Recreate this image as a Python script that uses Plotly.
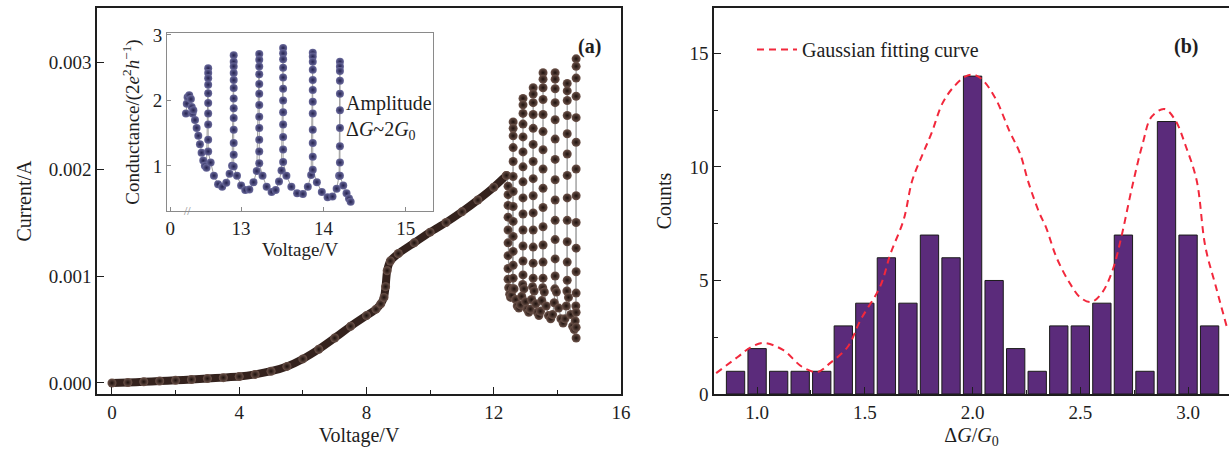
import plotly.graph_objects as go

# ---------------- panel (a): I-V sweep ----------------
# smooth part of the sweep (voltage in V, current in A)
sweep_v = [0.0, 0.5, 1.0, 1.5, 2.0, 2.5, 3.0, 3.5, 4.0, 4.5, 5.0, 5.5, 6.0, 6.5,
           7.0, 7.5, 8.0, 8.3, 8.45, 8.55, 8.6, 8.65, 8.75, 9.0, 9.5, 10.0, 10.5,
           11.0, 11.5, 12.0, 12.4]
sweep_i = [0.0, 0.000005, 0.000011, 0.000018, 0.000025, 0.000033, 0.000041,
           0.000050, 0.000060, 0.000080, 0.000110, 0.000155, 0.000225, 0.000315,
           0.000420, 0.000530, 0.000630, 0.000690, 0.000740, 0.000800, 0.000900,
           0.001050, 0.001140, 0.001210, 0.001310, 0.001410, 0.001500, 0.001600,
           0.001710, 0.001830, 0.001940]

# oscillating regime: vertical runs at nearly constant voltage ...
osc_run_v = [12.45, 12.61, 12.92, 13.24, 13.55, 13.93, 14.31, 14.59]
osc_run_i = [
    [0.00184, 0.00176, 0.00166, 0.00155, 0.00143, 0.00131, 0.00119, 0.00107, 0.00097],
    [0.00244, 0.00238, 0.00231, 0.00220, 0.00207, 0.00193, 0.00179, 0.00165, 0.00151,
     0.00137, 0.00123, 0.00110, 0.00098],
    [0.00266, 0.00260, 0.00252, 0.00242, 0.00230, 0.00216, 0.00202, 0.00188, 0.00173,
     0.00158, 0.00143, 0.00128, 0.00114, 0.00101],
    [0.00276, 0.00270, 0.00262, 0.00251, 0.00238, 0.00223, 0.00207, 0.00191, 0.00175,
     0.00159, 0.00143, 0.00127, 0.00112, 0.00098],
    [0.00290, 0.00284, 0.00276, 0.00265, 0.00251, 0.00235, 0.00218, 0.00200, 0.00182,
     0.00164, 0.00146, 0.00129, 0.00113, 0.00098],
    [0.00290, 0.00284, 0.00275, 0.00262, 0.00246, 0.00228, 0.00209, 0.00190, 0.00171,
     0.00152, 0.00134, 0.00116, 0.00100],
    [0.00280, 0.00273, 0.00264, 0.00250, 0.00233, 0.00214, 0.00194, 0.00173, 0.00152,
     0.00132, 0.00113, 0.00096],
    [0.00303, 0.00296, 0.00285, 0.00268, 0.00248, 0.00225, 0.00200, 0.00175, 0.00150,
     0.00126, 0.00104, 0.00084, 0.00066, 0.00052, 0.00042],
]
# ... separated by current valleys
osc_dip_v = [
    [12.47, 12.50, 12.53, 12.56, 12.59],
    [12.64, 12.69, 12.74, 12.79, 12.84, 12.88, 12.91],
    [12.95, 13.00, 13.05, 13.10, 13.15, 13.19, 13.22],
    [13.27, 13.32, 13.37, 13.42, 13.47, 13.51, 13.54],
    [13.59, 13.65, 13.72, 13.79, 13.85, 13.90, 13.92],
    [13.97, 14.04, 14.11, 14.18, 14.24, 14.28, 14.30],
    [14.35, 14.42, 14.48, 14.53, 14.56, 14.58],
]
osc_dip_i = [
    [0.00089, 0.00083, 0.00080, 0.00082, 0.00088],
    [0.00088, 0.00078, 0.00072, 0.00070, 0.00073, 0.00081, 0.00092],
    [0.00088, 0.00076, 0.00069, 0.00066, 0.00069, 0.00078, 0.00090],
    [0.00086, 0.00074, 0.00066, 0.00063, 0.00067, 0.00077, 0.00089],
    [0.00085, 0.00072, 0.00063, 0.00060, 0.00064, 0.00075, 0.00088],
    [0.00085, 0.00070, 0.00060, 0.00056, 0.00060, 0.00072, 0.00086],
    [0.00080, 0.00064, 0.00053, 0.00050, 0.00058, 0.00072],
]

# ---------------- inset: conductance in units of 2e^2/h ----------------
ins_start_v = [12.33, 12.34, 12.35, 12.37, 12.39, 12.40, 12.41, 12.42, 12.44, 12.46,
               12.48, 12.50, 12.52, 12.54, 12.56, 12.58]
ins_start_g = [1.80, 1.95, 2.05, 2.08, 2.02, 1.90, 1.80, 1.85, 1.70, 1.58,
               1.46, 1.33, 1.20, 1.08, 1.00, 0.97]
ins_run_v = [12.60, 12.91, 13.22, 13.51, 13.87, 14.20]
ins_run_g = [
    [2.49, 2.42, 2.34, 2.24, 2.11, 1.96, 1.80, 1.63, 1.40, 1.22],
    [2.69, 2.59, 2.52, 2.42, 2.31, 2.19, 2.03, 1.88, 1.73, 1.55, 1.35, 1.17, 0.99],
    [2.71, 2.62, 2.52, 2.40, 2.25, 2.10, 1.93, 1.75, 1.58, 1.40, 1.22, 1.04],
    [2.80, 2.72, 2.63, 2.50, 2.35, 2.18, 2.00, 1.82, 1.63, 1.44, 1.25, 1.06],
    [2.73, 2.67, 2.59, 2.47, 2.31, 2.16, 1.98, 1.80, 1.55, 1.35, 1.14, 0.94],
    [2.59, 2.52, 2.45, 2.30, 2.10, 1.85, 1.58, 1.30, 1.05, 0.85],
]
ins_dip_v = [
    [12.63, 12.67, 12.72, 12.77, 12.82, 12.86, 12.89],
    [12.95, 13.00, 13.05, 13.10, 13.15, 13.19],
    [13.26, 13.31, 13.37, 13.42, 13.46, 13.49],
    [13.55, 13.61, 13.68, 13.75, 13.81, 13.85],
    [13.92, 13.98, 14.05, 14.11, 14.16, 14.19],
    [14.24, 14.28, 14.31, 14.33],
]
ins_dip_g = [
    [1.05, 0.85, 0.72, 0.68, 0.74, 0.88, 1.00],
    [0.85, 0.70, 0.63, 0.64, 0.75, 0.92],
    [0.85, 0.68, 0.60, 0.63, 0.76, 0.93],
    [0.85, 0.68, 0.58, 0.57, 0.68, 0.86],
    [0.75, 0.60, 0.52, 0.53, 0.65, 0.85],
    [0.70, 0.58, 0.50, 0.45],
]
ins_tick_vals = [12.14, 13, 14, 15]
ins_tick_text = ["0", "13", "14", "15"]

# ---------------- panel (b): histogram of conductance jumps ----------------
dg_bins = [0.9, 1.0, 1.1, 1.2, 1.3, 1.4, 1.5, 1.6, 1.7, 1.8, 1.9, 2.0, 2.1, 2.2,
           2.3, 2.4, 2.5, 2.6, 2.7, 2.8, 2.9, 3.0, 3.1]
dg_counts = [1, 2, 1, 1, 1, 3, 4, 6, 4, 7, 6, 14, 5, 2, 1, 3, 3, 4, 7, 1, 12, 7, 3]
fit_x = [0.81, 0.91, 0.97, 1.03, 1.12, 1.21, 1.28, 1.34, 1.42, 1.48, 1.57, 1.62,
         1.68, 1.72, 1.77, 1.81, 1.86, 1.91, 1.97, 2.01, 2.05, 2.11, 2.17, 2.22,
         2.26, 2.31, 2.34, 2.39, 2.45, 2.50, 2.55, 2.60, 2.65, 2.69, 2.74, 2.79,
         2.83, 2.89, 2.94, 2.99, 3.04, 3.08, 3.13, 3.18]
fit_y = [0.92, 1.63, 2.05, 2.25, 1.94, 1.19, 0.97, 1.37, 2.07, 3.26, 4.71, 6.2,
         7.67, 9.4, 10.6, 11.5, 12.8, 13.5, 14.0, 14.05, 13.8, 12.95, 11.6, 10.6,
         9.3, 7.97, 7.36, 6.0, 4.9, 4.25, 4.05, 4.45, 5.46, 6.9, 9.1, 11.05,
         12.2, 12.55, 12.07, 10.9, 9.4, 6.5, 4.7, 2.95]


def chain(start_x, start_y, run_x, run_y, dip_x, dip_y):
    """Join the runs and valleys into one time-ordered record."""
    xs, ys = list(start_x), list(start_y)
    for k, x in enumerate(run_x):
        xs += [x] * len(run_y[k])
        ys += run_y[k]
        if k < len(dip_x):
            xs += dip_x[k]
            ys += dip_y[k]
    return xs, ys


osc_v, osc_i = chain([sweep_v[-1]], [sweep_i[-1]], osc_run_v, osc_run_i, osc_dip_v, osc_dip_i)
ins_v, ins_g = chain(ins_start_v, ins_start_g, ins_run_v, ins_run_g, ins_dip_v, ins_dip_g)

SERIF = "Liberation Serif, Times New Roman, serif"
INK = "#1e1e1e"
BROWN = dict(size=9, color="#6e544b", gradient=dict(type="radial", color="#1c100c"), line=dict(width=0))
NAVY = dict(size=8, color="#6a6a9c", gradient=dict(type="radial", color="#24224f"), line=dict(width=0))

fig = go.Figure()

# (a) smooth part of the sweep
fig.add_trace(go.Scatter(x=sweep_v, y=sweep_i, mode="lines+markers",
                         line=dict(color="#34221d", width=8, shape="spline", smoothing=0.6),
                         marker=BROWN, xaxis="x", yaxis="y", showlegend=False))
# (a) oscillating part
fig.add_trace(go.Scatter(x=osc_v, y=osc_i, mode="lines+markers",
                         line=dict(color="#9a9a9a", width=1.2), marker=BROWN,
                         xaxis="x", yaxis="y", showlegend=False))
# inset
fig.add_trace(go.Scatter(x=ins_v, y=ins_g, mode="lines+markers",
                         line=dict(color="#a0a0a0", width=1), marker=NAVY,
                         xaxis="x2", yaxis="y2", showlegend=False))
# (b) histogram
fig.add_trace(go.Bar(x=dg_bins, y=dg_counts, width=0.085,
                     marker=dict(color="#5b2b7b", line=dict(color="#1a1a1a", width=1)),
                     xaxis="x3", yaxis="y3", showlegend=False))
fig.add_trace(go.Scatter(x=fit_x, y=fit_y, mode="lines", name="Gaussian fitting curve",
                         line=dict(color="#f2283c", width=2, dash="7px,5px", shape="spline",
                                   smoothing=1.0),
                         xaxis="x3", yaxis="y3", showlegend=True))

tickfont = dict(family=SERIF, size=19, color=INK)
titlefont = dict(family=SERIF, size=20, color=INK)
ax_common = dict(showgrid=False, zeroline=False, showline=True, linecolor=INK, linewidth=1.6,
                 ticks="inside", ticklen=7, tickwidth=1.4, tickcolor=INK, tickfont=tickfont,
                 automargin=False)
inset_common = dict(showgrid=False, zeroline=False, showline=True, linecolor="#8a8a8a",
                    linewidth=1, mirror=True, ticks="inside", ticklen=4, tickcolor="#8a8a8a",
                    tickfont=dict(family=SERIF, size=19, color=INK), automargin=False)

fig.update_layout(
    width=1229, height=452,
    margin=dict(l=0, r=0, t=0, b=0, autoexpand=False),
    paper_bgcolor="white", plot_bgcolor="white",
    font=dict(family=SERIF, color=INK),
    xaxis=dict(**ax_common, domain=[97 / 1229, 621 / 1229], range=[-0.47, 16],
               tickvals=[0, 4, 8, 12, 16], mirror=True,
               minor=dict(dtick=2, tick0=0, ticklen=4, ticks="inside", tickcolor=INK),
               title=dict(text="Voltage/V", font=titlefont, standoff=6), anchor="y"),
    yaxis=dict(**ax_common, domain=[1 - 394 / 452, 1 - 8 / 452], range=[-0.000103, 0.003505],
               tickvals=[0, 0.001, 0.002, 0.003], tickformat=".3f", mirror=True,
               title=dict(text="Current/A", font=titlefont, standoff=12), anchor="x"),
    xaxis2=dict(**inset_common, domain=[167 / 1229, 433 / 1229], range=[12.10, 15.33],
                tickvals=ins_tick_vals, ticktext=ins_tick_text,
                title=dict(text="Voltage/V", font=dict(family=SERIF, size=19, color=INK), standoff=4),
                anchor="y2"),
    yaxis2=dict(**inset_common, domain=[1 - 211 / 452, 1 - 33 / 452], range=[0.31, 3.03],
                tickvals=[1, 2, 3],
                title=dict(text="Conductance/(2<i>e</i><sup>2</sup><i>h</i><sup>−1</sup>)",
                           font=dict(family=SERIF, size=19, color=INK), standoff=8),
                anchor="x2"),
    xaxis3=dict(**ax_common, domain=[714 / 1229, 1.0], range=[0.8, 3.19],
                tickvals=[1.0, 1.5, 2.0, 2.5, 3.0], tickformat=".1f", mirror=True,
                minor=dict(dtick=0.25, tick0=0.75, ticklen=4, ticks="inside", tickcolor=INK),
                title=dict(text="Δ<i>G</i>/<i>G</i><sub>0</sub>", font=titlefont, standoff=6),
                anchor="y3"),
    yaxis3=dict(**ax_common, domain=[1 - 394 / 452, 1 - 8 / 452], range=[0, 17.0],
                tickvals=[0, 5, 10, 15],
                minor=dict(dtick=2.5, tick0=0, ticklen=4, ticks="inside", tickcolor=INK),
                title=dict(text="Counts", font=titlefont, standoff=12), anchor="x3"),
    legend=dict(x=752 / 1229, y=1 - 30 / 452, xanchor="left", yanchor="top",
                bgcolor="rgba(0,0,0,0)", font=dict(family=SERIF, size=20, color=INK),
                itemwidth=40),
    annotations=[
        dict(text="<b>(a)</b>", x=589 / 1229, y=1 - 33 / 452, xref="paper", yref="paper",
             showarrow=False, font=dict(family=SERIF, size=20, color=INK)),
        dict(text="<b>(b)</b>", x=1200 / 1229, y=1 - 33 / 452, xref="paper", yref="paper",
             showarrow=False, font=dict(family=SERIF, size=20, color=INK)),
        dict(text="Amplitude<br>Δ<i>G</i>~2<i>G</i><sub>0</sub>", x=344 / 1229, y=1 - 90 / 452,
             xref="paper", yref="paper", xanchor="left", yanchor="top", align="left",
             showarrow=False, font=dict(family=SERIF, size=20, color=INK)),
        dict(text="//", x=182 / 1229, y=1 - 211 / 452, xref="paper", yref="paper",
             showarrow=False, font=dict(family=SERIF, size=12, color="#8a8a8a")),
    ],
)

fig.write_html("out.html")
